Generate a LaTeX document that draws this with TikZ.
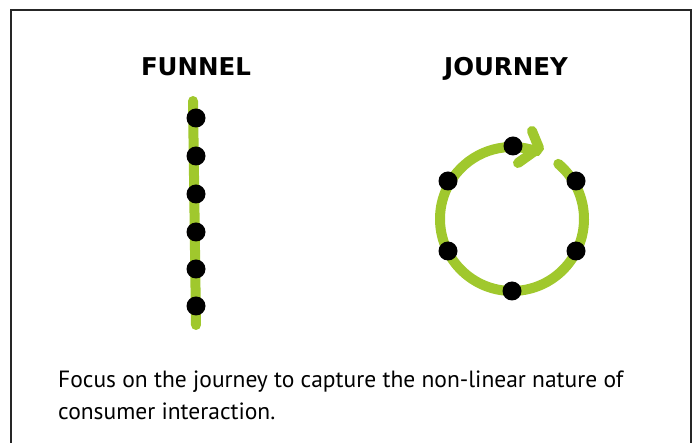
\documentclass[tikz,border=0pt]{standalone}
\usepackage{fontspec}
\usetikzlibrary{calc}
\newfontfamily\titlefont{DejaVu Sans}
\newfontfamily\capfont{PT Sans}
\definecolor{lime}{RGB}{160,200,45}
\begin{document}
\begin{tikzpicture}[x=1pt,y=-1pt,
  greenline/.style={draw=lime,line width=10pt,line cap=round,line join=round},
  dot/.style={circle,fill=black,inner sep=0pt,minimum size=19pt},
  title/.style={font=\titlefont\bfseries\fontsize{24.5}{28}\selectfont,inner sep=0pt,anchor=base},
  captext/.style={font=\capfont\fontsize{23.5}{28}\selectfont,inner sep=0pt,anchor=base west}]
\useasboundingbox (0,0) rectangle (697,443);
\draw[line width=1.6pt,black!85] (11,470) -- (11,10) -- (691,10) -- (691,470);
% titles
\node[title] (tf) at (196,76) {FUNNEL};
\node[title] (tj) at (506,76) {JOURNEY};
% funnel
\coordinate (ft) at (193,101);
\coordinate (fb) at (196,325);
\draw[greenline] (ft) -- (fb);
\foreach \i/\y in {1/118,2/156,3/194,4/232,5/269,6/306}
  \node[dot] (f\i) at (196,\y) {};
% journey
\coordinate (jc) at (512,219);
\coordinate (js) at ($(jc)+(-50:72)$);
\draw[greenline] (js) arc[start angle=-50,end angle=290,radius=72];
\coordinate (a1) at (532,131);
\coordinate (at) at (539,148);
\coordinate (a2) at (518,163);
\draw[greenline] (a1) -- (at) -- (a2);
\node[dot] (j1) at (513,146) {};
\node[dot] (j2) at (448,181) {};
\node[dot] (j3) at (448,251) {};
\node[dot] (j4) at (512,291) {};
\node[dot] (j5) at (576,251) {};
\node[dot] (j6) at (576,181) {};
% caption
\node[captext] (c1) at (58,388) {Focus on the journey to capture the non-linear nature of};
\node[captext] (c2) at (58,420) {consumer interaction.};
\end{tikzpicture}
\end{document}
